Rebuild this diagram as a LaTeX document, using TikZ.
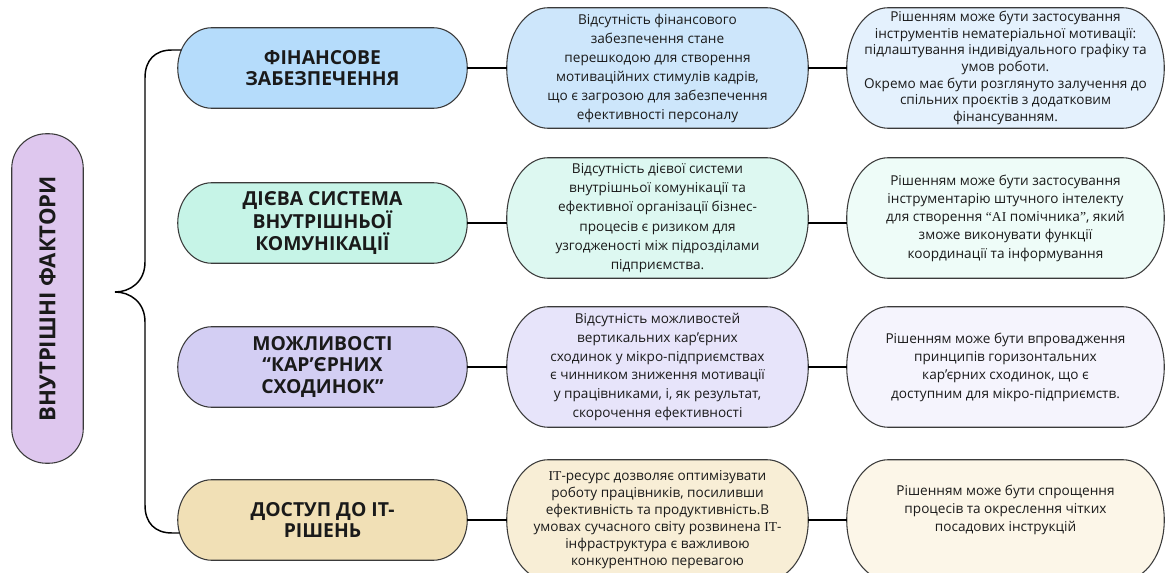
\documentclass[tikz,border=0pt]{standalone}
\usepackage{fontspec}
\usepackage{graphicx}
\setmainfont{Open Sans}
\newfontfamily\serifl{Liberation Serif}
\usetikzlibrary{backgrounds,calc}
\definecolor{edgec}{HTML}{3A3A3A}
\definecolor{txt}{HTML}{1A1A1A}
\definecolor{leftc}{HTML}{DEC7EE}
\definecolor{aone}{HTML}{B5DCFB}
\definecolor{atwo}{HTML}{CDE6FB}
\definecolor{athree}{HTML}{E4F1FD}
\definecolor{bone}{HTML}{C6F4E7}
\definecolor{btwo}{HTML}{DDF8F1}
\definecolor{bthree}{HTML}{EEFCF8}
\definecolor{cone}{HTML}{D3CEF3}
\definecolor{ctwo}{HTML}{E7E4FA}
\definecolor{cthree}{HTML}{F5F4FD}
\definecolor{done}{HTML}{F1E0B6}
\definecolor{dtwo}{HTML}{F8EED6}
\definecolor{dthree}{HTML}{FCF6E8}
\tikzset{
  box/.style={draw=none, inner sep=0pt, align=center, text=txt},
  colone/.style={box, minimum width=216.75pt, minimum height=60pt, font=\fontsize{14.5}{16}\selectfont\bfseries},
  coltwo/.style={box, minimum width=225.75pt, minimum height=90pt, font=\fontsize{10.2}{14.25}\selectfont},
  colthree/.style={box, minimum width=237.75pt, minimum height=90pt, font=\fontsize{10.2}{13.7}\selectfont},
  conn/.style={draw=black, line width=1.5pt},
  bracec/.style={draw=black, line width=1.1pt},
  stadborder/.style={draw=edgec, line width=0.8pt}
}
\newcommand\stadium[3]{%
  \path[stadborder, fill=#3] let \p1=(#1.north west), \p2=(#1.south east), \n1={(\y1-\y2)/2} in
    (\x1+#2,\y1) -- (\x2-#2,\y1)
    arc[start angle=90, end angle=-90, x radius=#2, y radius=\n1]
    -- (\x1+#2,\y2)
    arc[start angle=270, end angle=90, x radius=#2, y radius=\n1] -- cycle;}
\begin{document}
\begin{tikzpicture}[x=0.75pt, y=-0.75pt]
\useasboundingbox (0,0) rectangle (1165,573);

% left node
\node[box, minimum width=53.25pt, minimum height=246.75pt, font=\fontsize{16.6}{18}\selectfont\bfseries] (L) at (47.5,298.5) {\rotatebox{90}{ВНУТРІШНІ ФАКТОРИ}};

% column 1
\node[colone] (c1a) at (322.5,68) {ФІНАНСОВЕ\\ЗАБЕЗПЕЧЕННЯ};
\node[colone] (c1b) at (322.5,223) {ДІЄВА СИСТЕМА\\ВНУТРІШНЬОЇ\\КОМУНІКАЦІЇ};
\node[colone] (c1c) at (322.5,367) {МОЖЛИВОСТІ\\“КАР’ЄРНИХ\\СХОДИНОК”};
\node[colone] (c1d) at (322.5,520) {ДОСТУП ДО ІТ-\\РІШЕНЬ};

% column 2
\node[coltwo] (c2a) at (657.5,68) {Відсутність фінансового\\забезпечення стане\\перешкодою для створення\\мотиваційних стимулів кадрів,\\що є загрозою для забезпечення\\ефективності персоналу};
\node[coltwo, font=\fontsize{10.2}{14.5}\selectfont] (c2b) at (657.5,218) {Відсутність дієвої системи\\внутрішньої комунікації та\\ефективної організації бізнес-\\процесів є ризиком для\\узгодженості між підрозділами\\підприємства.};
\node[coltwo, font=\fontsize{10.2}{14}\selectfont] (c2c) at (657.5,367) {Відсутність можливостей\\вертикальних кар’єрних\\сходинок у мікро-підприємствах\\є чинником зниження мотивації\\у працівниками, і, як результат,\\скорочення ефективності};
\node[coltwo, font=\fontsize{10.2}{12.75}\selectfont] (c2d) at (657.5,520) {{\serifl IT}-ресурс дозволяє оптимізувати\\роботу працівників, посиливши\\ефективність та продуктивність.В\\умовах сучасного світу розвинена {\serifl IT}-\\інфраструктура є важливою\\конкурентною перевагою};

% column 3
\node[colthree, font=\fontsize{10.2}{12.5}\selectfont] (c3a) at (1005.5,68) {Рішенням може бути застосування\\інструментів нематеріальної мотивації:\\підлаштування індивідуального графіку та\\умов роботи.\\Окремо має бути розглянуто залучення до\\спільних проєктів з додатковим\\фінансуванням.};
\node[colthree] (c3b) at (1005.5,218) {Рішенням може бути застосування\\інструментарію штучного інтелекту\\для створення {\serifl “AI} помічника{\serifl ”}, який\\зможе виконувати функції\\координації та інформування};
\node[colthree, font=\fontsize{10.2}{13.75}\selectfont] (c3c) at (1005.5,367) {Рішенням може бути впровадження\\принципів горизонтальних\\кар’єрних сходинок, що є\\доступним для мікро-підприємств.};
\node[colthree, font=\fontsize{10.2}{13.5}\selectfont] (c3d) at (1005.5,520) {Рішенням може бути спрощення\\процесів та окреслення чітких\\посадових інструкцій\\\strut};

\begin{scope}[on background layer]
  \fill[white] (0,0) rectangle (1165,573);
  \clip (0,0) rectangle (1165,573);
  \path[stadborder, fill=leftc, rounded corners=26pt] (L.north west) rectangle (L.south east);
  \stadium{c1a}{25.5pt}{aone}
  \stadium{c1b}{25.5pt}{bone}
  \stadium{c1c}{25.5pt}{cone}
  \stadium{c1d}{25.5pt}{done}
  \stadium{c2a}{31pt}{atwo}
  \stadium{c2b}{31pt}{btwo}
  \stadium{c2c}{31pt}{ctwo}
  \stadium{c2d}{31pt}{dtwo}
  \stadium{c3a}{31pt}{athree}
  \stadium{c3b}{31pt}{bthree}
  \stadium{c3c}{31pt}{cthree}
  \stadium{c3d}{31pt}{dthree}
\end{scope}

% connectors
\draw[conn] (c1a.east) -- (c2a.west);
\draw[conn] (c2a.east) -- (c3a.west);
\draw[conn] (c1b.east) -- (c1b.east -| c2b.west);
\draw[conn] (c1b.east -| c2b.east) -- (c1b.east -| c3b.west);
\draw[conn] (c1c.east) -- (c2c.west);
\draw[conn] (c2c.east) -- (c3c.west);
\draw[conn] (c1d.east) -- (c2d.west);
\draw[conn] (c2d.east) -- (c3d.west);

% brace
\coordinate (bt) at ($(c1a.west)+(3.6,-18)$);
\coordinate (bb) at ($(c1d.west)+(1.8,13)$);
\coordinate (cusp) at (115,292);
\draw[bracec] (bt) -- (172,50) .. controls (155,50) and (145,60) .. (145,78) -- (145,262)
  .. controls (145,282) and (130,292) .. (cusp)
  .. controls (130,292) and (145,302) .. (145,322) -- (145,505)
  .. controls (145,523) and (155,533) .. (172,533) -- (bb);
\end{tikzpicture}
\end{document}
